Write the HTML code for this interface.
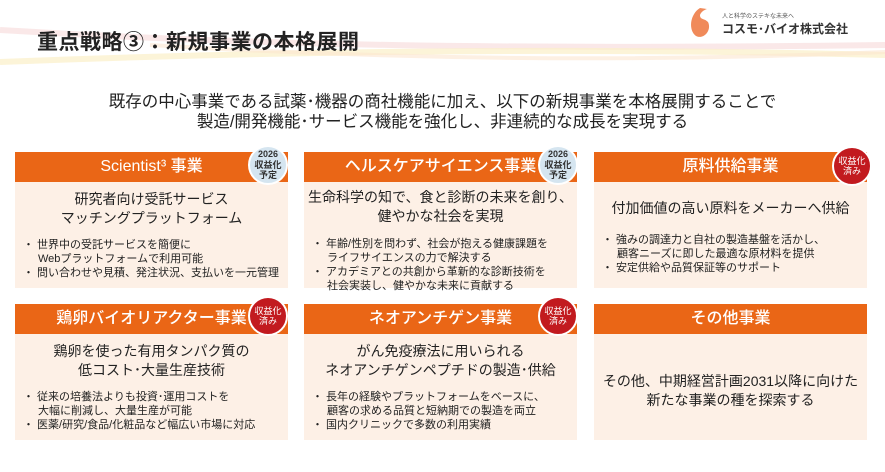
<!DOCTYPE html>
<html><head><meta charset="utf-8"><style>
*{margin:0;padding:0;box-sizing:border-box}
body{width:885px;height:472px;background:#fff;position:relative;overflow:hidden;font-family:"Liberation Sans","Noto Sans CJK JP",sans-serif;color:#222}
.abs{position:absolute}
.card{position:absolute;width:273px;background:#fdf0e6}
.hd{height:30px;background:#ea6616;color:#fff;font-size:16px;text-align:center;line-height:30px;font-weight:500}
.main{text-align:center;font-size:14px;line-height:19px;margin-top:8px}
.bl{font-size:11px;line-height:14px;margin:10px 0 0 8px}
.bl div{padding-left:15px;text-indent:-15px}
.badge{position:absolute;width:40px;height:40px;border-radius:50%;border:2px solid #fff;text-align:center;font-size:9px;font-weight:bold;line-height:10.5px;display:flex;align-items:center;justify-content:center;flex-direction:column}
.blue{background:#d5e5f0;color:#333}
.red{background:#c21a1f;color:#fff;font-weight:normal}
</style></head><body>
<svg class="abs" style="left:0;top:0" width="885" height="90">
<path d="M0,30 C250,45 500,50 885,45" stroke="#f7d8d8" stroke-width="6" fill="none" opacity=".6"/>
<path d="M0,62 C300,50 600,48 885,55" stroke="#fbf0c8" stroke-width="6" fill="none" opacity=".7"/>
<path d="M150,45 C400,60 650,62 885,52" stroke="#fbe6d0" stroke-width="4" fill="none" opacity=".6"/>
<path d="M700,8 C690,14 688,30 696,36 C704,40 712,30 708,22 C704,18 700,20 700,15 C701,12 704,10 707,9 Z" fill="#f08a5a"/>
</svg>
<div class="abs" style="left:37px;top:26px;font-size:21px;font-weight:bold;letter-spacing:0.5px">重点戦略③：新規事業の本格展開</div>
<div class="abs" style="left:722px;top:11px;font-size:6px;color:#555">人と科学のステキな未来へ</div>
<div class="abs" style="left:722px;top:20px;font-size:12px;color:#333;font-weight:bold">コスモ･バイオ株式会社</div>
<div class="abs" style="left:0;width:885px;top:92px;text-align:center;font-size:16.5px;line-height:20px">既存の中心事業である試薬･機器の商社機能に加え、以下の新規事業を本格展開することで<br>製造/開発機能･サービス機能を強化し、非連続的な成長を実現する</div>

<div class="card" style="left:15px;top:152px;height:136px"><div class="hd">Scientist³ 事業</div>
<div class="main">研究者向け受託サービス<br>マッチングプラットフォーム</div>
<div class="bl"><div>・ 世界中の受託サービスを簡便に<br>Webプラットフォームで利用可能</div><div>・ 問い合わせや見積、発注状況、支払いを一元管理</div></div></div>
<div class="card" style="left:304px;top:152px;height:136px"><div class="hd">ヘルスケアサイエンス事業</div>
<div class="main" style="margin-top:6px">生命科学の知で、食と診断の未来を創り、<br>健やかな社会を実現</div>
<div class="bl" style="margin-top:11px"><div>・ 年齢/性別を問わず、社会が抱える健康課題を<br>ライフサイエンスの力で解決する</div><div>・ アカデミアとの共創から革新的な診断技術を<br>社会実装し、健やかな未来に貢献する</div></div></div>
<div class="card" style="left:594px;top:152px;height:136px"><div class="hd">原料供給事業</div>
<div class="main" style="margin-top:17px">付加価値の高い原料をメーカーへ供給</div>
<div class="bl" style="margin-top:15px"><div>・ 強みの調達力と自社の製造基盤を活かし、<br>顧客ニーズに即した最適な原材料を提供</div><div>・ 安定供給や品質保証等のサポート</div></div></div>

<div class="card" style="left:15px;top:304px;height:136px"><div class="hd">鶏卵バイオリアクター事業</div>
<div class="main">鶏卵を使った有用タンパク質の<br>低コスト･大量生産技術</div>
<div class="bl"><div>・ 従来の培養法よりも投資･運用コストを<br>大幅に削減し、大量生産が可能</div><div>・ 医薬/研究/食品/化粧品など幅広い市場に対応</div></div></div>
<div class="card" style="left:304px;top:304px;height:136px"><div class="hd">ネオアンチゲン事業</div>
<div class="main">がん免疫療法に用いられる<br>ネオアンチゲンペプチドの製造･供給</div>
<div class="bl"><div>・ 長年の経験やプラットフォームをベースに、<br>顧客の求める品質と短納期での製造を両立</div><div>・ 国内クリニックで多数の利用実績</div></div></div>
<div class="card" style="left:594px;top:304px;height:136px"><div class="hd">その他事業</div>
<div class="main" style="margin-top:38px">その他、中期経営計画2031以降に向けた<br>新たな事業の種を探索する</div></div>

<div class="badge blue" style="left:248px;top:145px">2026<br>収益化<br>予定</div>
<div class="badge blue" style="left:538px;top:145px">2026<br>収益化<br>予定</div>
<div class="badge red" style="left:832px;top:146px">収益化<br>済み</div>
<div class="badge red" style="left:248px;top:296px">収益化<br>済み</div>
<div class="badge red" style="left:538px;top:296px">収益化<br>済み</div>
</body></html>
